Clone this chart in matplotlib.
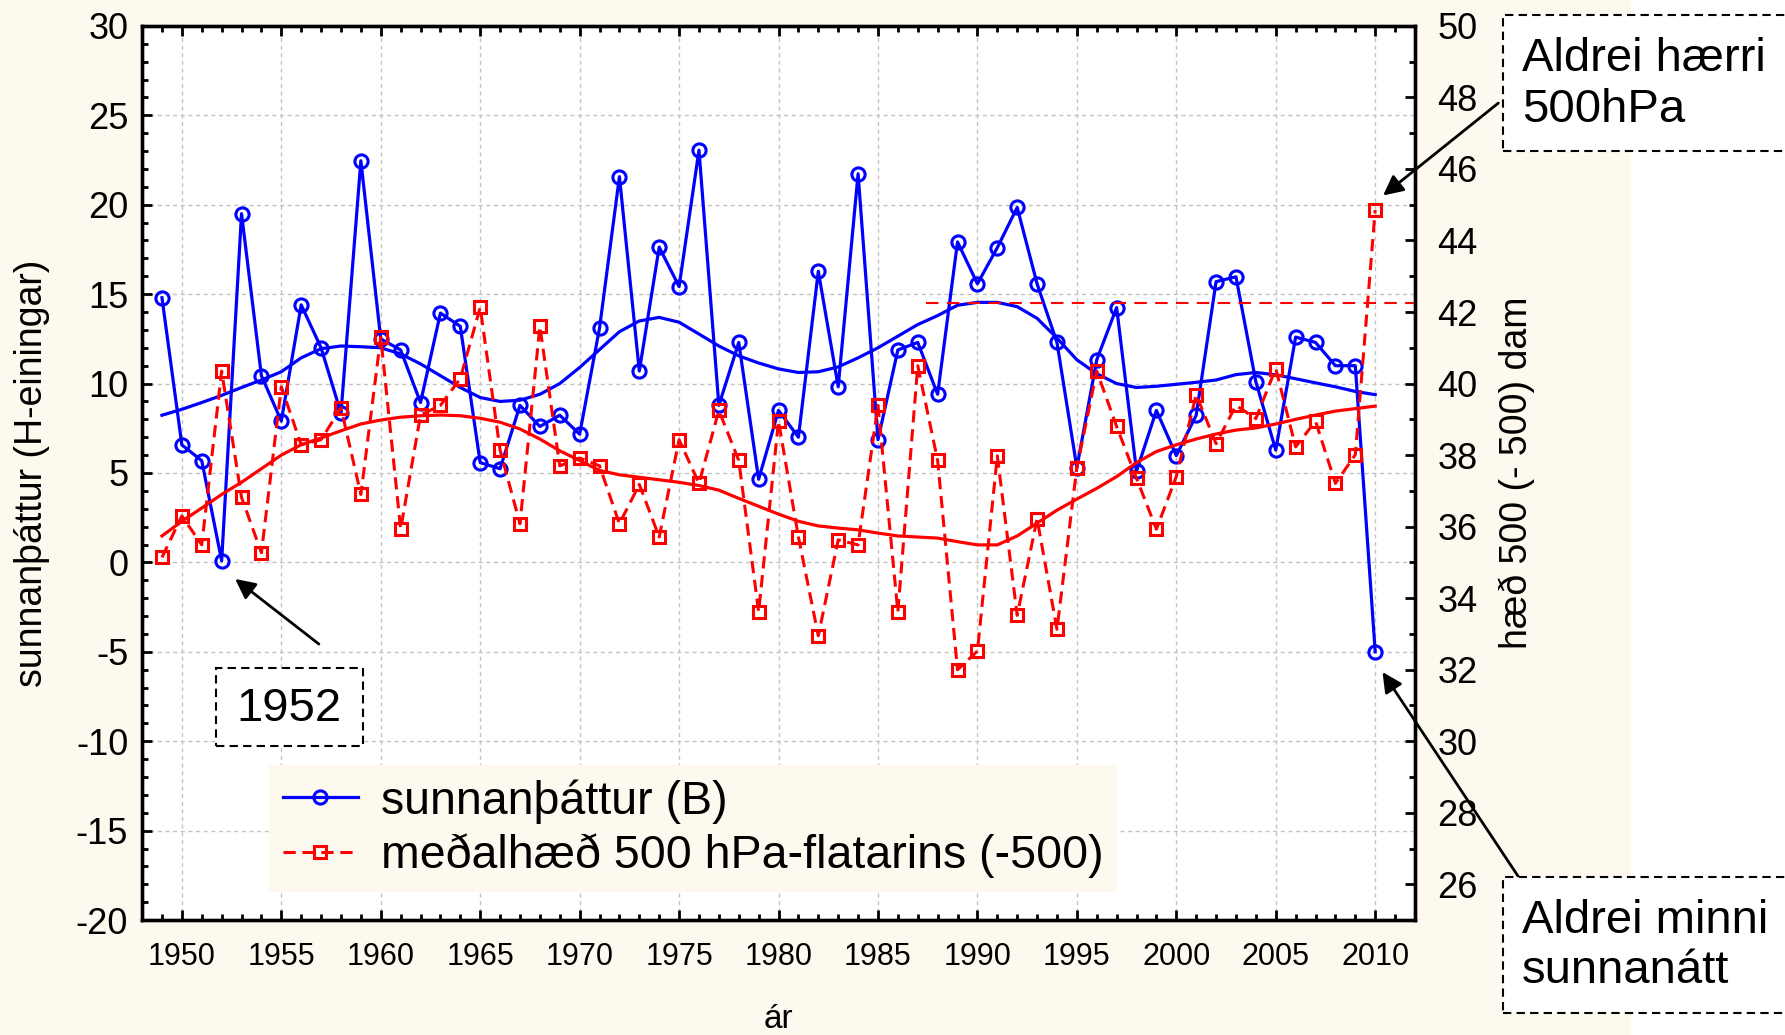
import matplotlib.pyplot as plt
from matplotlib.patches import Rectangle
from matplotlib.ticker import MultipleLocator

plt.rcParams['font.family'] = ['Liberation Sans', 'DejaVu Sans']
plt.rcParams['axes.unicode_minus'] = False

years = list(range(1949, 2011))

# sunnanþáttur (B), H-einingar
sunnan = [14.8, 6.57, 5.69, 0.09, 19.5, 10.44, 7.9, 14.4, 12.0, 8.34,
          22.46, 12.5, 11.88, 8.94, 13.94, 13.2, 5.58, 5.24, 8.78, 7.6,
          8.23, 7.17, 13.1, 21.57, 10.7, 17.63, 15.42, 23.05, 8.78, 12.3,
          4.65, 8.5, 7.0, 16.28, 9.82, 21.73, 6.86, 11.88, 12.3, 9.4,
          17.92, 15.58, 17.6, 19.85, 15.58, 12.3, 5.3, 11.33, 14.25, 5.1,
          8.5, 5.97, 8.23, 15.7, 15.97, 10.1, 6.28, 12.6, 12.3, 11.0,
          11.0, -5.0]

# meðalhæð 500 hPa-flatarins (-500), dam
haed = [35.14, 36.3, 35.49, 40.35, 36.82, 35.27, 39.91, 38.29, 38.43, 39.32,
        36.9, 41.3, 35.93, 39.12, 39.39, 40.14, 42.13, 38.14, 36.08, 41.6,
        37.7, 37.92, 37.7, 36.08, 37.18, 35.71, 38.43, 37.21, 39.25, 37.85,
        33.62, 38.95, 35.71, 32.95, 35.63, 35.49, 39.39, 33.62, 40.5, 37.85,
        32.0, 32.52, 37.98, 33.52, 36.22, 33.13, 37.65, 40.35, 38.8, 37.35,
        35.93, 37.4, 39.69, 38.32, 39.39, 39.02, 40.42, 38.23, 38.95, 37.21,
        38.01, 44.85]

# smoothed curves
sunnan_smooth = [8.23, 8.56, 8.94, 9.34, 9.78, 10.2, 10.66, 11.44, 11.95, 12.1,
                 12.06, 12.0, 11.66, 11.1, 10.44, 9.78, 9.22, 9.0, 9.07, 9.4,
                 10.0, 10.9, 11.9, 12.9, 13.5, 13.7, 13.43, 12.77, 12.1, 11.55,
                 11.15, 10.82, 10.62, 10.66, 10.93, 11.44, 12.0, 12.65, 13.3, 13.8,
                 14.38, 14.54, 14.54, 14.3, 13.65, 12.54, 11.33, 10.55, 10.0, 9.78,
                 9.85, 9.96, 10.07, 10.2, 10.5, 10.62, 10.49, 10.27, 10.04, 9.82,
                 9.56, 9.38]

haed_smooth = [35.74, 36.15, 36.52, 36.9, 37.24, 37.62, 38.0, 38.29, 38.48, 38.68,
               38.87, 38.98, 39.06, 39.1, 39.12, 39.1, 39.03, 38.92, 38.73, 38.45,
               38.12, 37.85, 37.57, 37.45, 37.38, 37.31, 37.24, 37.15, 37.02, 36.79,
               36.57, 36.35, 36.15, 36.02, 35.96, 35.91, 35.82, 35.74, 35.71, 35.68,
               35.58, 35.49, 35.49, 35.74, 36.1, 36.46, 36.77, 37.07, 37.4, 37.79,
               38.1, 38.29, 38.45, 38.59, 38.7, 38.76, 38.87, 39.0, 39.12, 39.23,
               39.3, 39.37]

ref_level = 42.25
ref_years = [1987.4, 2012]

cream = '#fdf9ee'
blue = '#0000ff'
red = '#ff0000'

fig = plt.figure(figsize=(17.85, 10.35), dpi=100)
fig.patch.set_facecolor('white')
fig.patches.append(Rectangle((0, 0), 0.914, 1, transform=fig.transFigure,
                             facecolor=cream, edgecolor='none', zorder=-10))

ax = fig.add_axes([0.0796, 0.111, 0.7131, 0.864])
ax2 = ax.twinx()

ax.plot(years, sunnan, color=blue, lw=2.3, marker='o', ms=9.5, mfc='none', mew=2.2,
        label='sunnanþáttur (B)')
ax.plot(years, sunnan_smooth, color=blue, lw=2.3)

ax2.plot(years, haed, color=red, lw=2.2, ls=(0, (4, 2.2)), marker='s', ms=9,
         mfc='none', mew=2.2, label='meðalhæð 500 hPa-flatarins (-500)')
ax2.plot(years, haed_smooth, color=red, lw=2.3)
ax2.plot(ref_years, [ref_level, ref_level], color=red, lw=1.5, ls=(0, (6, 4)))

ax.set_xlim(1948, 2012)
ax.set_ylim(-20, 30)
ax2.set_ylim(25, 50)

ax.xaxis.set_major_locator(MultipleLocator(5))
ax.xaxis.set_minor_locator(MultipleLocator(1))
ax.yaxis.set_major_locator(MultipleLocator(5))
ax.yaxis.set_minor_locator(MultipleLocator(1))
ax2.yaxis.set_minor_locator(MultipleLocator(1))
ax2.set_yticks(range(26, 51, 2))

ax.grid(True, which='major', color='#c4c4c4', ls=(0, (3, 2.5)), lw=1)

ax.tick_params(axis='x', which='both', direction='in', top=True, bottom=True,
               width=2, labelsize=22, pad=16)
ax.tick_params(axis='y', which='both', direction='in', left=True, right=False,
               width=2, labelsize=26, pad=10)
ax2.tick_params(axis='y', which='both', direction='in', width=2, labelsize=26, pad=16)
for a in (ax, ax2):
    a.tick_params(which='major', length=7)
    a.tick_params(which='minor', length=4)
    for s in a.spines.values():
        s.set_linewidth(2.4)

ax.set_ylabel('sunnanþáttur (H-einingar)', fontsize=27, va='center')
ax.yaxis.set_label_coords(-0.0864, 0.5)
ax2.set_ylabel('hæð 500 (- 500) dam', fontsize=27, va='center', rotation=90)
ax2.yaxis.set_label_coords(1.08, 0.5)
ax.set_xlabel('ár', fontsize=24, va='center')
ax.xaxis.set_label_coords(0.5, -0.111)

h1, l1 = ax.get_legend_handles_labels()
h2, l2 = ax2.get_legend_handles_labels()
leg = ax2.legend(h1 + h2, l1 + l2, loc='lower left', bbox_to_anchor=(0.0998, 0.031),
                 borderaxespad=0, fontsize=33.5, facecolor=cream, edgecolor='none',
                 framealpha=1, fancybox=False, handlelength=1.6, handletextpad=0.5,
                 labelspacing=0.22, borderpad=0.3)

# annotation boxes
box_style = dict(facecolor='white', edgecolor='black', lw=1.5, ls=(0, (4, 2.5)))
ax.add_patch(Rectangle((1951.7, -10.27), 7.4, 4.34, clip_on=False, zorder=5, **box_style))
ax.text(1955.4, -8.17, '1952', fontsize=34, ha='center', va='center', zorder=6)
ax.annotate('', xy=(1952.57, -0.83), xytext=(1957.0, -4.66),
            arrowprops=dict(arrowstyle='-|>', color='black', lw=2, mutation_scale=30))

fig.patches.append(Rectangle((0.842, 0.854), 0.2, 0.1314, transform=fig.transFigure, **box_style))
fig.patches.append(Rectangle((0.842, 0.0213), 0.2, 0.131, transform=fig.transFigure, **box_style))
fig.text(0.8527, 0.918, 'Aldrei hærri\n500hPa', fontsize=34, ha='left', va='center')
fig.text(0.8527, 0.086, 'Aldrei minni\nsunnanátt', fontsize=34, ha='left', va='center')

ax.annotate('', xy=(2010.29, 20.42), xytext=(2016.3, 25.78), annotation_clip=False,
            arrowprops=dict(arrowstyle='-|>', color='black', lw=2, mutation_scale=30))
ax.annotate('', xy=(2010.29, -6.0), xytext=(2017.3, -17.74), annotation_clip=False,
            arrowprops=dict(arrowstyle='-|>', color='black', lw=2, mutation_scale=30))

fig.savefig('out.png', dpi=100)
